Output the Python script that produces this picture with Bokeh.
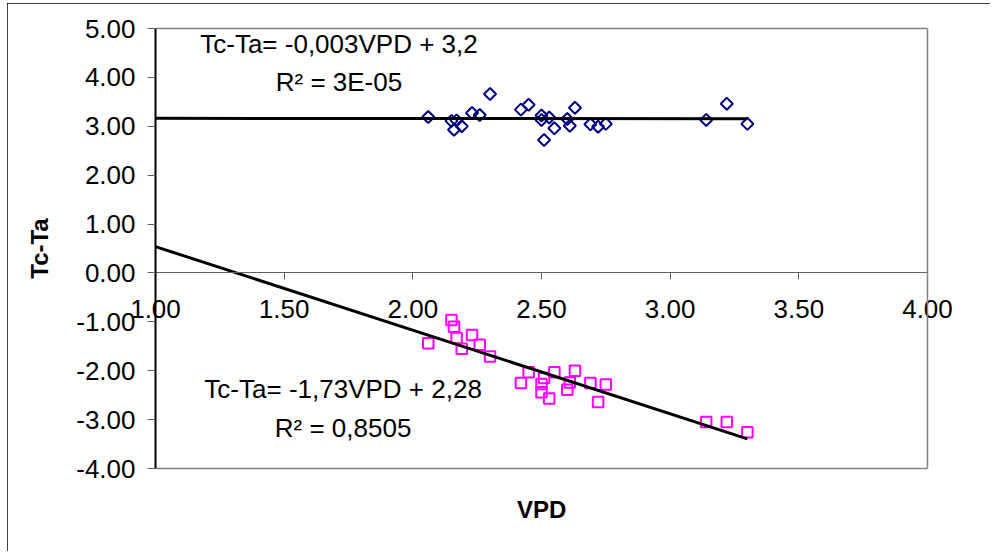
import numpy as np
from bokeh.plotting import figure
from bokeh.models import (FixedTicker, NumeralTickFormatter, Label, Title, LinearAxis,
                          Range1d, ColumnDataSource)
from bokeh.embed import file_html
from bokeh.resources import INLINE

# ---- data ----
vpd = [2.06, 2.15, 2.16, 2.17, 2.19, 2.23, 2.26, 2.30, 2.42, 2.45, 2.50, 2.50,
       2.51, 2.53, 2.55, 2.60, 2.61, 2.63, 2.69, 2.72, 2.75, 3.14, 3.22, 3.30]
tc_ta_upper = [3.19, 3.11, 2.93, 3.12, 3.00, 3.27, 3.23, 3.66, 3.34, 3.44, 3.22, 3.13,
               2.72, 3.18, 2.96, 3.15, 3.01, 3.38, 3.04, 2.99, 3.05, 3.13, 3.46, 3.05]
tc_ta_lower = [-1.44, -0.96, -1.10, -1.33, -1.55, -1.27, -1.47, -1.71, -2.25, -2.03, -2.27, -2.44,
               -2.15, -2.57, -2.03, -2.39, -2.24, -2.00, -2.25, -2.64, -2.28, -3.05, -3.05, -3.26]
x_ticks = [1.0, 1.5, 2.0, 2.5, 3.0, 3.5, 4.0]
y_ticks = [-4, -3, -2, -1, 0, 1, 2, 3, 4, 5]
eq_upper = "Tc-Ta= -0,003VPD + 3,2"
r2_upper = "R² = 3E-05"
eq_lower = "Tc-Ta= -1,73VPD + 2,28"
r2_lower = "R² = 0,8505"
x_title = "VPD"
y_title = "Tc-Ta"

FONT = "Liberation Sans"

# ---- layout (screen pixels) ----
FIG_X0, FIG_Y0, W, H = 7, 3, 983, 548          # whole chart box
PA_L, PA_R, PA_T, PA_B = 155, 927, 28, 468      # plot area (x 1..4, y 5..-4)
FR_L, FR_R, FR_T, FR_B = 17, 982, 8, 486        # bokeh frame (larger, so labels are not clipped)
XTITLE_W = 49                                    # approx. width of the bold x title

xmin, xmax = x_ticks[0], x_ticks[-1]
ymin, ymax = y_ticks[0], y_ticks[-1]
xpp = (xmax - xmin) / (PA_R - PA_L)
ypp = (ymax - ymin) / (PA_B - PA_T)
x_range = Range1d(xmin + (FR_L - PA_L) * xpp, xmin + (FR_R - PA_L) * xpp)
y_range = Range1d(ymin - (FR_B - PA_B) * ypp, ymax + (PA_T - FR_T) * ypp)

p = figure(width=W, height=H, output_backend="svg", toolbar_location=None,
           x_range=x_range, y_range=y_range,
           min_border_left=FR_L - FIG_X0, min_border_right=FIG_X0 + W - FR_R,
           min_border_top=FR_T - FIG_Y0, min_border_bottom=FIG_Y0 + H - FR_B)
p.styles = {"margin-left": f"{FIG_X0}px", "margin-top": f"{FIG_Y0}px",
            "outline": "1px solid black", "outline-offset": "-1px"}
p.grid.visible = False
p.outline_line_color = None
p.background_fill_color = None
p.border_fill_color = "white"

# keep references to the main axes before adding any other axis
xa = p.xaxis[0]
ya = p.yaxis[0]

# x axis crossing at y = 0
xa.fixed_location = 0
xa.bounds = (xmin, xmax)
xa.ticker = FixedTicker(ticks=x_ticks)
xa.formatter = NumeralTickFormatter(format="0.00")
xa.axis_line_color = "#606060"
xa.major_tick_line_color = "#606060"
xa.major_tick_out = 7
xa.major_tick_in = 0
xa.minor_tick_line_color = None
xa.major_label_standoff = 20
xa.major_label_text_font = FONT
xa.major_label_text_font_size = "26px"
xa.major_label_text_color = "black"

# y axis at x = 1
ya.fixed_location = xmin
ya.bounds = (ymin, ymax)
ya.ticker = FixedTicker(ticks=y_ticks)
ya.formatter = NumeralTickFormatter(format="0.00")
ya.axis_line_color = "black"
ya.axis_line_width = 2
ya.major_tick_line_color = "#606060"
ya.major_tick_out = 8
ya.major_tick_in = 0
ya.minor_tick_line_color = None
ya.major_label_standoff = 12
ya.major_label_text_font = FONT
ya.major_label_text_font_size = "26px"
ya.major_label_text_color = "black"
ya.axis_label = y_title
ya.axis_label_text_font = FONT
ya.axis_label_text_font_style = "bold"
ya.axis_label_text_font_size = "24px"
ya.axis_label_standoff = 20
ya.axis_label_text_color = "black"


def border_axis(loc, bnds):
    """A tick-less axis used only to draw one gray edge of the plot area."""
    return LinearAxis(fixed_location=loc, bounds=bnds, ticker=FixedTicker(ticks=[]),
                      axis_line_color="#808080", axis_line_width=1.5,
                      major_tick_line_color=None, minor_tick_line_color=None,
                      major_tick_out=0, major_tick_in=0, minor_tick_out=0,
                      major_label_text_font_size="0px")


# plot-area border: top, right, bottom edges (left edge is the y axis)
p.add_layout(border_axis(ymax, (xmin, xmax)), "above")
p.add_layout(border_axis(xmax, (ymin, ymax)), "right")
p.add_layout(border_axis(ymin, (xmin, xmax)), "below")

# x axis title, centred under the plot area
p.add_layout(Title(text=x_title, align="left",
                   offset=(PA_L + PA_R) / 2 - XTITLE_W / 2 - FR_L,
                   standoff=14, text_font=FONT, text_font_style="bold",
                   text_font_size="24px", text_color="black"), "below")

src = ColumnDataSource(dict(x=vpd, up=tc_ta_upper, lo=tc_ta_lower))
p.scatter("x", "up", source=src, marker="square", angle=np.pi / 4, size=8.5,
          fill_color=None, line_color="#000080", line_width=2)
p.scatter("x", "lo", source=src, marker="square", size=10.5,
          fill_color=None, line_color="#FF00FF", line_width=2)

# trend lines (least squares, drawn from axis start to last point)
x1 = max(vpd)
for ys in (tc_ta_upper, tc_ta_lower):
    m, b = np.polyfit(vpd, ys, 1)
    p.line([xmin, x1], [m * xmin + b, m * x1 + b], line_color="black", line_width=3)

for txt, xx, yy in ((eq_upper, 1.713, 4.69), (r2_upper, 1.713, 3.91),
                    (eq_lower, 1.729, -2.37), (r2_lower, 1.729, -3.18)):
    p.add_layout(Label(x=xx, y=yy, text=txt, text_align="center", text_baseline="middle",
                       text_font=FONT, text_font_size="26px", text_color="black"))

open("out.html", "w").write(file_html(p, INLINE))
